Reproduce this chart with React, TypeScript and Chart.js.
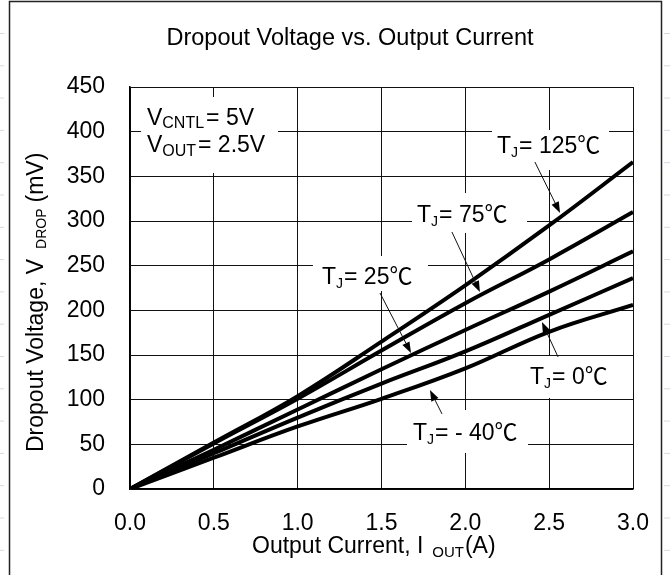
import React, { useEffect, useRef } from "react";
import { Chart, registerables } from "chart.js";

Chart.register(...registerables);

const FONT = '"Liberation Sans", Arial, Helvetica, sans-serif';
const DEG_FONT = '"Noto Sans CJK SC", "DejaVu Sans", sans-serif';

// ---- data ----
const currentA = [0, 0.5, 1.0, 1.5, 2.0, 2.5, 3.0];
const drop125 = [0, 52, 104, 165, 228, 295, 366];
const drop75 = [0, 51, 101, 155, 208, 257, 310];
const drop25 = [0, 44, 89, 134, 178, 221, 266];
const drop0 = [0, 40, 80, 118, 154, 195, 236];
const dropMinus40 = [0, 35, 70, 101, 135, 176, 206];
const seriesTemps = ["125", "75", "25", "0", "- 40"];
const xTickValues = [0, 0.5, 1.0, 1.5, 2.0, 2.5, 3.0];
const yTickValues = [0, 50, 100, 150, 200, 250, 300, 350, 400, 450];

const titleText = "Dropout Voltage vs. Output Current";

type Part = { t?: string; sub?: boolean; deg?: boolean; gap?: number };

// annotation layout (data units: x in A, y in mV)
const tempLabels = [
  { temp: seriesTemps[0], at: [2.189, 376.1], box: [2.159, 401.9, 2.857, 357.1], arrow: [2.415, 366.0, 2.565, 309.0] },
  { temp: seriesTemps[1], at: [1.712, 298.9], box: [1.682, 331.3, 2.368, 286.6], arrow: [1.92, 287.7, 2.087, 220.5] },
  { temp: seriesTemps[2], at: [1.145, 229.5], box: [1.091, 260.8, 1.777, 221.6], arrow: [1.491, 219.4, 1.676, 152.2] },
  { temp: seriesTemps[3], at: [2.386, 117.5], box: [2.356, 148.9, 2.893, 101.9], arrow: [2.553, 147.8, 2.457, 186.9] },
  { temp: seriesTemps[4], at: [1.688, 54.9], box: [1.652, 88.4, 2.374, 40.3], arrow: [1.861, 84.0, 1.789, 110.8] },
];
const condBox = [0.066, 438.8, 0.883, 353.7];
const condLines: { at: number[]; parts: Part[] }[] = [
  { at: [0.101, 407.5], parts: [{ t: "V" }, { t: "CNTL", sub: true }, { gap: 2 }, { t: "= 5V" }] },
  { at: [0.101, 377.2], parts: [{ t: "V" }, { t: "OUT", sub: true }, { gap: 2 }, { t: "= 2.5V" }] },
];

function drawRich(ctx: CanvasRenderingContext2D, parts: Part[], x: number, y: number, size: number, subSize: number, subDrop: number) {
  let cx = x;
  ctx.textAlign = "left";
  ctx.textBaseline = "alphabetic";
  for (const p of parts) {
    if (p.gap) { cx += p.gap; continue; }
    if (!p.t) continue;
    const fs = p.sub ? subSize : size;
    ctx.font = `${fs}px ${p.deg ? DEG_FONT : FONT}`;
    ctx.fillText(p.t, cx, p.sub ? y + subDrop : y);
    cx += ctx.measureText(p.t).width;
  }
  return cx;
}

function drawArrow(ctx: CanvasRenderingContext2D, x1: number, y1: number, x2: number, y2: number) {
  const ang = Math.atan2(y2 - y1, x2 - x1);
  const len = 11, hw = 4;
  const bx = x2 - len * Math.cos(ang), by = y2 - len * Math.sin(ang);
  ctx.strokeStyle = "#111";
  ctx.lineWidth = 1;
  ctx.beginPath();
  ctx.moveTo(x1, y1);
  ctx.lineTo(bx, by);
  ctx.stroke();
  ctx.fillStyle = "#000";
  ctx.beginPath();
  ctx.moveTo(x2, y2);
  ctx.lineTo(bx + hw * Math.sin(ang), by - hw * Math.cos(ang));
  ctx.lineTo(bx - hw * Math.sin(ang), by + hw * Math.cos(ang));
  ctx.closePath();
  ctx.fill();
}

const decorPlugin = {
  id: "decor",
  beforeDatasetsDraw(chart: any) {
    const ctx = chart.ctx as CanvasRenderingContext2D;
    const xs = chart.scales.x, ys = chart.scales.y;
    ctx.save();
    ctx.fillStyle = "#fff";
    const boxes = [condBox, ...tempLabels.map((l) => l.box)];
    for (const b of boxes) {
      const x1 = xs.getPixelForValue(b[0]), y1 = ys.getPixelForValue(b[1]);
      const x2 = xs.getPixelForValue(b[2]), y2 = ys.getPixelForValue(b[3]);
      ctx.fillRect(x1, y1, x2 - x1, y2 - y1);
    }
    ctx.restore();
  },
  afterDatasetsDraw(chart: any) {
    const ctx = chart.ctx as CanvasRenderingContext2D;
    const xs = chart.scales.x, ys = chart.scales.y;
    ctx.save();
    ctx.fillStyle = "#000";
    for (const l of condLines) {
      drawRich(ctx, l.parts, xs.getPixelForValue(l.at[0]), ys.getPixelForValue(l.at[1]), 23, 16, 3.5);
    }
    for (const l of tempLabels) {
      ctx.fillStyle = "#000";
      const parts: Part[] = [{ t: "T" }, { t: "J", sub: true }, { gap: 1 }, { t: "= " + l.temp }, { deg: true, t: "\u2103" }];
      drawRich(ctx, parts, xs.getPixelForValue(l.at[0]), ys.getPixelForValue(l.at[1]), 23, 14, 4);
      drawArrow(
        ctx,
        xs.getPixelForValue(l.arrow[0]), ys.getPixelForValue(l.arrow[1]),
        xs.getPixelForValue(l.arrow[2]), ys.getPixelForValue(l.arrow[3])
      );
    }
    ctx.restore();
  },
  afterDraw(chart: any) {
    const ctx = chart.ctx as CanvasRenderingContext2D;
    ctx.save();
    // outer frame
    ctx.strokeStyle = "#222";
    ctx.lineWidth = 1.5;
    ctx.strokeRect(9.5, 1.5, 652, 640);
    // faint sheet marks
    ctx.strokeStyle = "#d3dae6";
    ctx.lineWidth = 1;
    for (let i = 0; i < 18; i++) {
      const y = 33.5 + i * 32.3;
      ctx.beginPath(); ctx.moveTo(0, y); ctx.lineTo(4, y); ctx.stroke();
      ctx.beginPath(); ctx.moveTo(664, y); ctx.lineTo(670, y); ctx.stroke();
    }
    // title
    ctx.fillStyle = "#000";
    ctx.font = `23.5px ${FONT}`;
    ctx.textAlign = "center";
    ctx.textBaseline = "alphabetic";
    ctx.fillText(titleText, 350, 45);
    // x axis title
    drawRich(ctx, [{ t: "Output Current, I" }, { gap: 9 }, { t: "OUT", sub: true }, { gap: 1 }, { t: "(A)" }], 252, 553, 23, 15, 4);
    // y axis title
    ctx.translate(43, 452);
    ctx.rotate(-Math.PI / 2);
    drawRich(ctx, [{ t: "Dropout Voltage, V" }, { gap: 10 }, { t: "DROP", sub: true }, { gap: 6 }, { t: "(mV)" }], 0, 0, 23, 14, 3);
    ctx.restore();
  },
};

function toPoints(ys: number[]) {
  return currentA.map((x, i) => ({ x, y: ys[i] }));
}

export default function App() {
  const ref = useRef<HTMLCanvasElement | null>(null);
  useEffect(() => {
    if (!ref.current) return;
    const seriesList = [drop125, drop75, drop25, drop0, dropMinus40];
    const chart = new Chart(ref.current, {
      type: "line",
      data: {
        datasets: seriesList.map((s, i) => ({
          label: "TJ = " + seriesTemps[i] + "\u2103",
          data: toPoints(s),
          borderColor: "#000",
          backgroundColor: "#000",
          borderWidth: 4,
          pointRadius: 0,
          tension: 0.4,
          fill: false,
        })),
      },
      options: {
        responsive: false,
        animation: false,
        devicePixelRatio: 1,
        layout: { padding: { top: 87, right: 37, bottom: 0, left: 0 } },
        plugins: { legend: { display: false }, tooltip: { enabled: false }, title: { display: false } },
        scales: {
          x: {
            type: "linear",
            min: xTickValues[0],
            max: xTickValues[xTickValues.length - 1],
            afterFit: (s: any) => { s.height = 86; },
            afterBuildTicks: (s: any) => { s.ticks = xTickValues.map((v) => ({ value: v })); },
            ticks: {
              callback: (v: any) => Number(v).toFixed(1),
              font: { family: FONT, size: 23 },
              color: "#000",
              padding: 21,
              maxRotation: 0,
              autoSkip: false,
            },
            grid: { color: "#111", lineWidth: 1, drawTicks: false },
            border: { color: "#000", width: 1.5 },
          },
          y: {
            type: "linear",
            min: yTickValues[0],
            max: yTickValues[yTickValues.length - 1],
            afterFit: (s: any) => { s.width = 130; },
            afterBuildTicks: (s: any) => { s.ticks = yTickValues.map((v) => ({ value: v })); },
            ticks: {
              font: { family: FONT, size: 23 },
              color: "#000",
              padding: 25,
              autoSkip: false,
            },
            grid: { color: "#111", lineWidth: 1, drawTicks: false },
            border: { color: "#000", width: 1.5 },
          },
        },
      },
      plugins: [decorPlugin],
    } as any);
    return () => chart.destroy();
  }, []);
  return (
    <div style={{ position: "fixed", left: 0, top: 0, width: 670, height: 575, background: "#fff" }}>
      <canvas ref={ref} width={670} height={575} style={{ display: "block" }} />
    </div>
  );
}
